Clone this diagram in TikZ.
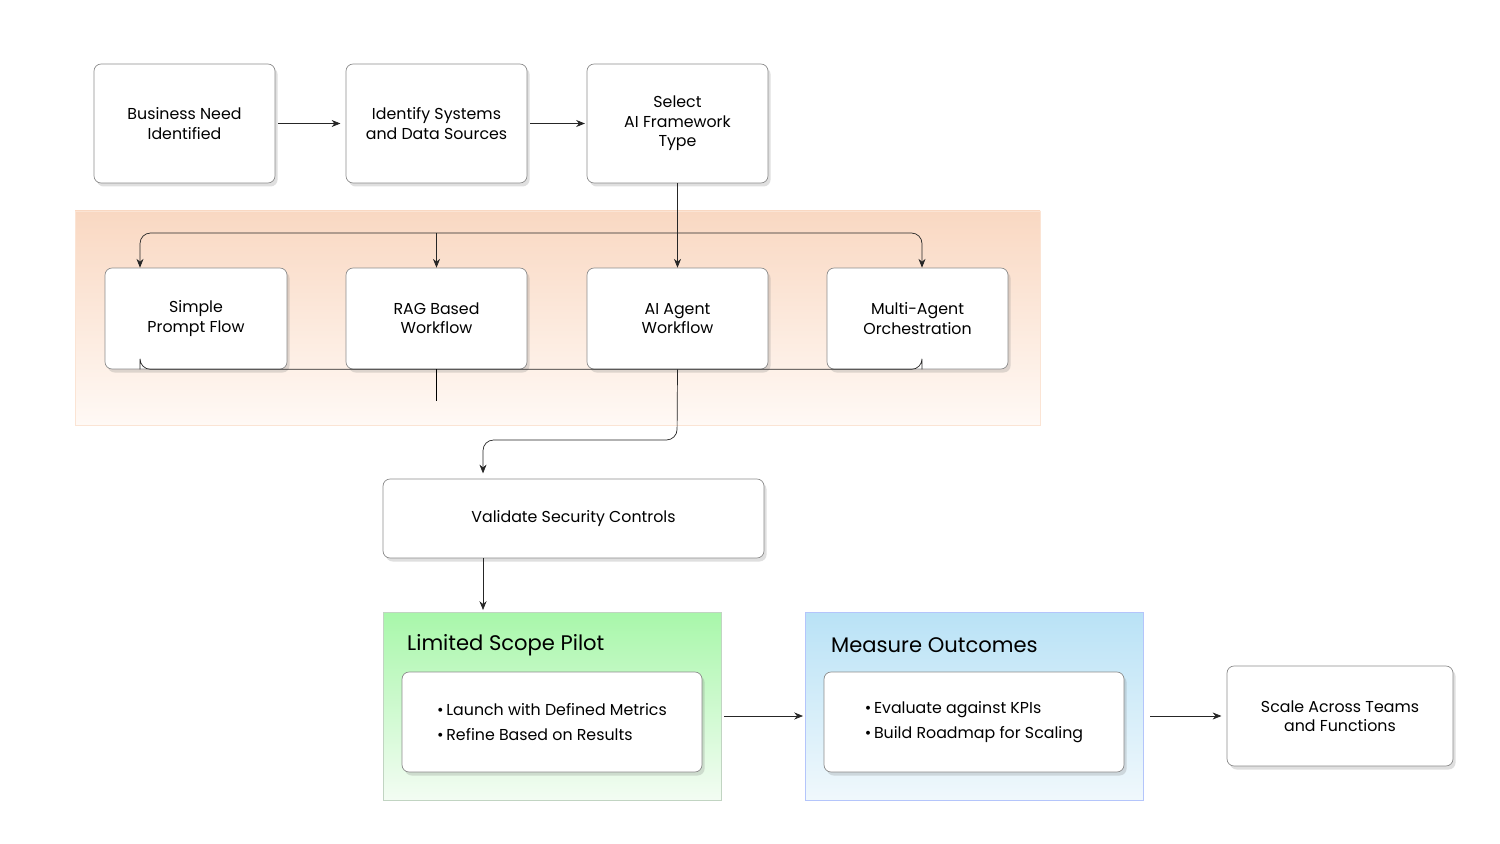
\documentclass[tikz,border=0pt]{standalone}
\usepackage{fontspec}
\setmainfont{Poppins}
\usetikzlibrary{shadows,arrows.meta}
\definecolor{bandtop}{HTML}{F9D8C2}
\definecolor{bandbot}{HTML}{FFF9F5}
\definecolor{greentop}{HTML}{A8F7AA}
\definecolor{greenbot}{HTML}{F3FCF3}
\definecolor{bluetop}{HTML}{B9E2F6}
\definecolor{bluebot}{HTML}{F0F8FC}
\tikzset{
  stepbox/.style={draw=black!45,fill=white,rounded corners=4pt,align=center,
    font=\fontsize{9}{11}\selectfont,drop shadow={shadow xshift=1.5pt,shadow yshift=-2pt,opacity=0.25}},
  flow/.style={-{Stealth[length=5pt,width=4pt]},black!85,thin},
  link/.style={black!85,thin,rounded corners=6pt}
}
\begin{document}
\begin{tikzpicture}[x=0.02cm,y=-0.02cm]
			\useasboundingbox (0,0) rectangle (1500,844);
			% bands
			\fill[top color=bandtop,bottom color=bandbot,draw=bandtop!70] (75,211) rectangle (1040,425);
			\shade[top color=greentop,bottom color=greenbot,draw=greentop!80!black!30] (383,612) rectangle (721,800);
			\draw[greentop!60!black!40] (383,612) rectangle (721,800);
			\shade[top color=bluetop,bottom color=bluebot] (805,612) rectangle (1143,800);
			\draw[bluetop!70!blue!60] (805,612) rectangle (1143,800);
			% first row
			\node[stepbox,minimum width=3.62cm,minimum height=2.38cm] (need) at (184.5,123.5) {Business Need\\Identified};
			\node[stepbox,minimum width=3.62cm,minimum height=2.38cm] (systems) at (436.5,123.5) {Identify Systems\\and Data Sources};
			\node[stepbox,minimum width=3.62cm,minimum height=2.38cm] (select) at (677.5,123.5) {Select\\AI Framework\\Type};
			% framework types
			\node[stepbox,minimum width=3.64cm,minimum height=2.02cm] (simple) at (196,318.5) {Simple\\Prompt Flow};
			\node[stepbox,minimum width=3.62cm,minimum height=2.02cm] (rag) at (436.5,318.5) {RAG Based\\Workflow};
			\node[stepbox,minimum width=3.62cm,minimum height=2.02cm] (agent) at (677.5,318.5) {AI Agent\\Workflow};
			\node[stepbox,minimum width=3.62cm,minimum height=2.02cm] (multi) at (917.5,318.5) {Multi-Agent\\Orchestration};
			\node[stepbox,minimum width=7.62cm,minimum height=1.58cm] (validate) at (573.5,518.5) {Validate Security Controls};
			% pilot and outcomes
			\node[font=\fontsize{12}{14}\selectfont,anchor=west] (pilottitle) at (401,645) {Limited Scope Pilot};
			\node[stepbox,minimum width=6cm,minimum height=2cm,align=left] (pilot) at (552,722) {\textbullet\,Launch with Defined Metrics\\[3pt]\textbullet\,Refine Based on Results};
			\node[font=\fontsize{12}{14}\selectfont,anchor=west] (outtitle) at (825,645) {Measure Outcomes};
			\node[stepbox,minimum width=6cm,minimum height=2cm,align=left] (outcomes) at (974,722) {\textbullet\,Evaluate against KPIs\hspace{5.2em}\\[3pt]\textbullet\,Build Roadmap for Scaling};
			\node[stepbox,minimum width=4.52cm,minimum height=2cm] (scale) at (1340,716) {Scale Across Teams\\and Functions};
			% connectors
			\coordinate (pilotleft) at (724,716);
			\coordinate (pilotright) at (1150,716);
			\draw[flow] (need.east) ++(3,0) -- ([xshift=-3pt]systems.west);
			\draw[flow] (systems.east) ++(3,0) -- ([xshift=-1pt]select.west);
			\draw[flow] (select.south) -- (agent.north);
			\draw[flow,link] (677,233) -| (simple.north -| 140,0);
			\draw[flow,link] (677,233) -| (multi.north -| 922,0);
			\draw[flow] (rag.north |- 0,233) -- (rag.north);
			\draw[link] (simple.south -| 140,0) |- (multi.south -| 922,401) -- (multi.south -| 922,0);
			\draw (rag.south) -- (rag.south |- 0,401);
			\draw[flow,link] (agent.south) -- (677,440) -| ([yshift=3pt]validate.north -| 483,0);
			\draw[flow] (validate.south -| 483,0) -- (483,610);
			\draw[flow] (pilotleft) -- (803,716);
			\draw[flow] (pilotright) -- ([xshift=-3pt]scale.west);
		\end{tikzpicture}
\end{document}
